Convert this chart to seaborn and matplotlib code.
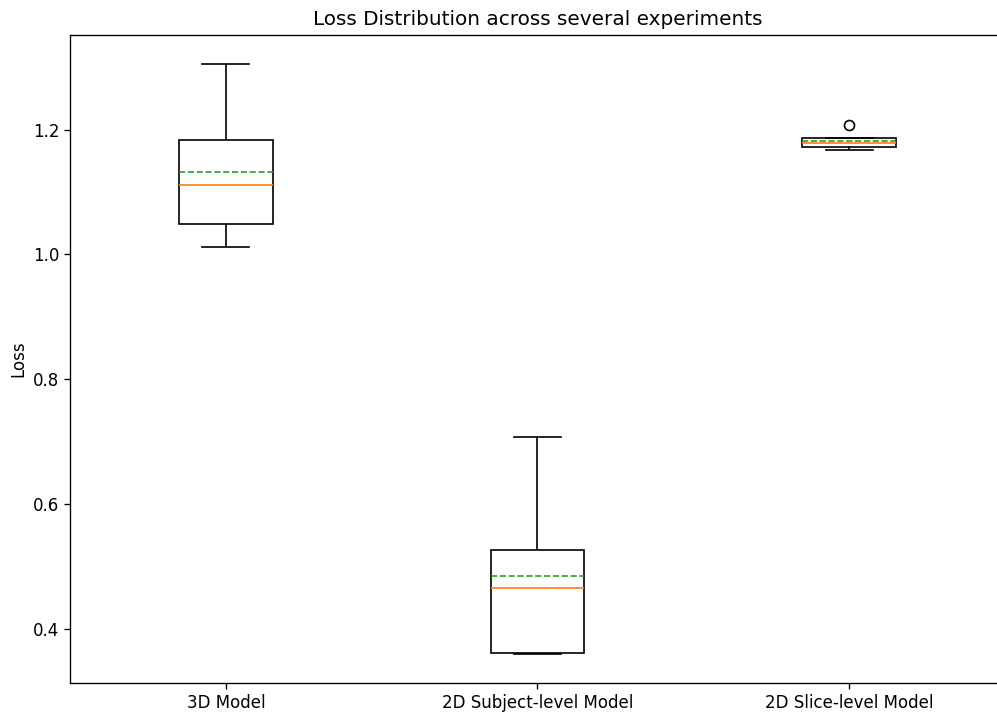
import numpy as np
import pandas as pd
import matplotlib
matplotlib.use("Agg")
import matplotlib.pyplot as plt
import seaborn as sns

models = ['3D Model', '2D Subject-level Model', '2D Slice-level Model']
loss_3d = [1.012, 1.049, 1.112, 1.183, 1.305]
loss_2d_subject = [0.360, 0.362, 0.465, 0.526, 0.708]
loss_2d_slice = [1.168, 1.172, 1.179, 1.186, 1.208]

df = pd.DataFrame({
    'Model': [models[0]] * len(loss_3d) + [models[1]] * len(loss_2d_subject) + [models[2]] * len(loss_2d_slice),
    'Loss': loss_3d + loss_2d_subject + loss_2d_slice,
})

s = 1.2  # reference looks rendered a bit larger than default
plt.rcParams.update({
    'font.size': 10 * s,
    'axes.linewidth': 0.8 * s,
    'xtick.major.size': 3.5 * s,
    'ytick.major.size': 3.5 * s,
    'xtick.major.width': 0.8 * s,
    'ytick.major.width': 0.8 * s,
})

fig, ax = plt.subplots(figsize=(9.97, 7.13), dpi=100)
fig.subplots_adjust(left=0.0702, right=1.008, top=0.9513, bottom=0.0417)

lw = 1.0 * s
sns.boxplot(data=df, x='Model', y='Loss', order=models, ax=ax,
            color='white', linecolor='black', linewidth=lw, width=0.3,
            showmeans=True, meanline=True,
            medianprops={'color': '#ff7f0e', 'linewidth': lw},
            meanprops={'color': '#2ca02c', 'linestyle': '--', 'linewidth': lw},
            flierprops={'marker': 'o', 'markerfacecolor': 'none', 'markeredgecolor': 'black',
                        'markersize': 6 * s, 'markeredgewidth': lw})

ax.set_xlabel('')
ax.set_ylabel('Loss', fontsize=10 * s)
ax.set_title('Loss Distribution across several experiments', fontsize=12 * s, pad=6 * s)
ax.set_yticks([0.4, 0.6, 0.8, 1.0, 1.2])
ax.tick_params(labelsize=10 * s)
ax.spines['right'].set_visible(False)  # cut off by the image edge in the reference

fig.savefig('out.png', dpi=100)
